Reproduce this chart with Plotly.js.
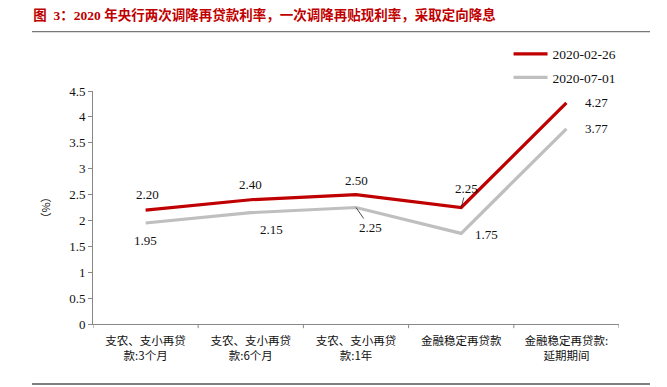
<!DOCTYPE html>
<html><head><meta charset="utf-8">
<script src="https://cdn.plot.ly/plotly-3.0.1.min.js"></script>
<style>body{margin:0;background:#fff}#c{width:667px;height:387px}</style>
</head><body><div id="c"></div>
<script>
const categories = ["支农、支小再贷<br>款:3个月", "支农、支小再贷<br>款:6个月", "支农、支小再贷<br>款:1年", "金融稳定再贷款", "金融稳定再贷款:<br>延期期间"];
const seriesNames = ["2020-02-26", "2020-07-01"];
const feb26 = [2.20, 2.40, 2.50, 2.25, 4.27];
const jul01 = [1.95, 2.15, 2.25, 1.75, 3.77];
const yTicks = [0, 0.5, 1, 1.5, 2, 2.5, 3, 3.5, 4, 4.5];

const serif = "Liberation Serif, Times New Roman, Noto Sans CJK SC, serif";
const red = "#C00000", gray = "#BFBFBF";

// label offsets in pixels (style)
const redOff = [[2,-16,false],[0,-15,false],[0,-14,false],[5,-19,true],[30,0,false]];
const grayOff = [[0,17,false],[21,17,false],[14,20,true],[25,1,false],[30,0,false]];

const annotations = [];
function addLabels(vals, offs){
  vals.forEach((v,i)=>{
    const [ax,ay,arrow]=offs[i];
    annotations.push({x:i,y:v,xref:"x",yref:"y",text:v.toFixed(2),showarrow:arrow,
      arrowhead:0,arrowwidth:0.8,arrowcolor:"#222",ax:ax,ay:ay,standoff:0,
      xshift:arrow?0:ax,yshift:arrow?0:-ay,
      font:{family:serif,size:13,color:"#111"}});
  });
}
addLabels(feb26, redOff);
addLabels(jul01, grayOff);

const traces = [
  {x:[0,1,2,3,4],y:feb26,name:seriesNames[0],legendgroup:"a",type:"scatter",mode:"lines",line:{color:red,width:3.2}},
  {x:[0,1,2,3,4],y:jul01,name:seriesNames[1],legendgroup:"b",type:"scatter",mode:"lines",line:{color:gray,width:3.2}}
];

const layout = {
  width:667,height:387,
  margin:{l:93,r:48,t:91,b:63},
  paper_bgcolor:"#fff",plot_bgcolor:"#fff",
  showlegend:true,
  legend:{x:0.79,y:1.225,xanchor:"left",yanchor:"top",font:{family:serif,size:13.5,color:"#111"},
    bgcolor:"rgba(0,0,0,0)",tracegroupgap:3,itemwidth:34},
  title:{text:"图  3：2020 年央行两次调降再贷款利率，一次调降再贴现利率，采取定向降息",
    x:0.05,xanchor:"left",y:0.96,yanchor:"middle",
    font:{family:"Liberation Serif, Noto Sans CJK SC, serif",size:13.5,color:red,weight:"bold"}},
  xaxis:{type:"linear",range:[-0.5,4.5],tickvals:[0,1,2,3,4],ticktext:categories,
    showgrid:false,zeroline:false,showline:true,linecolor:"#888",linewidth:1,
    ticks:"",ticklabelstandoff:6,tickfont:{family:"Noto Sans CJK SC, serif",size:11.5,color:"#111"}},
  yaxis:{range:[0,4.5],tickvals:yTicks,ticktext:yTicks.map(String),showgrid:false,zeroline:false,
    showline:true,linecolor:"#888",linewidth:1,ticks:"outside",ticklen:4,tickcolor:"#888",
    tickfont:{family:serif,size:13,color:"#111"},
    title:{text:"（%）",standoff:16,font:{family:"Noto Sans CJK SC, serif",size:11,color:"#111"}}},
  annotations:annotations,
  shapes:[
    {type:"line",xref:"paper",yref:"paper",x0:-0.116,x1:1.059,y0:-0.2575,y1:-0.2575,line:{color:"#555",width:1.5}},
    {type:"line",xref:"paper",yref:"paper",x0:-0.116,x1:1.059,y0:1.255,y1:1.255,line:{color:"#777",width:1.3}}
  ].concat([0,1,2,3,4,5].map(b=>({type:"line",xref:"x",yref:"paper",x0:b-0.5,x1:b-0.5,y0:0,y1:-0.018,line:{color:"#888",width:1}})))
};
Plotly.newPlot("c",traces,layout,{displayModeBar:false,staticPlot:true});
</script></body></html>
